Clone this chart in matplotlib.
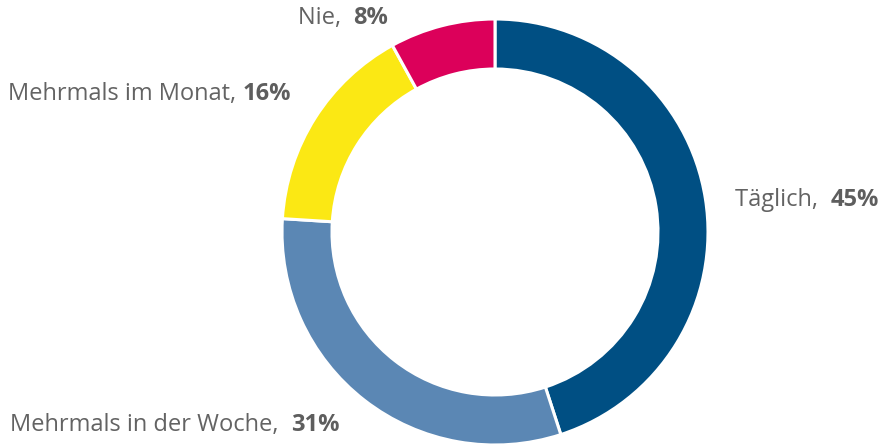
import matplotlib.pyplot as plt

categories = ['Täglich', 'Mehrmals in der Woche', 'Mehrmals im Monat', 'Nie']
values = [45, 31, 16, 8]
colors = ['#004f83', '#5b87b4', '#fbe814', '#dc005a']
separators = [',  ', ',  ', ', ', ',  ']

# label anchor positions in pixels (x from left, y from top)
label_pos = [(735, 200), (10, 425), (8, 94), (298, 18)]

plt.rcParams['font.family'] = ['Open Sans', 'DejaVu Sans']

fig = plt.figure(figsize=(8.82, 4.45), dpi=100)
ax = fig.add_axes([0, 0, 1, 1])

ax.pie(values, colors=colors, startangle=90, counterclock=False,
       center=(495, 213), radius=213, frame=True,
       wedgeprops=dict(width=50, edgecolor='white', linewidth=2.2))
ax.set_xlim(0, 882)
ax.set_ylim(0, 445)
ax.set_aspect('auto')
ax.axis('off')

fig.canvas.draw()
for cat, v, sep, (x, y) in zip(categories, values, separators, label_pos):
    t = ax.text(x, 445 - y, f'{cat}{sep}', ha='left', va='center',
                fontsize=17, color='#636363')
    fig.canvas.draw()
    bb = t.get_window_extent()
    ax.text(bb.x1, 445 - y, f'{v}%', ha='left', va='center',
            fontsize=17, color='#5e5e5e', fontweight='bold')

fig.savefig('out.png', dpi=100)
